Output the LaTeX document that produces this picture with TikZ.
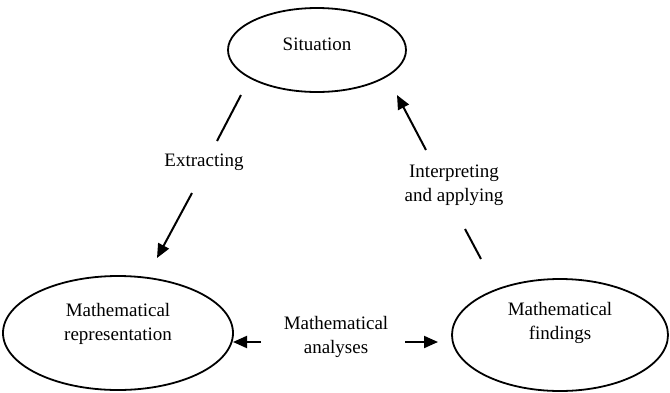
\documentclass[tikz,border=0pt]{standalone}
\usepackage{fontspec}
\setmainfont{Liberation Serif}
\usetikzlibrary{arrows.meta,shapes.geometric}
\begin{document}
\begin{tikzpicture}[x=1pt,y=-1pt,
  oval/.style={draw,line width=1.8pt,ellipse,minimum width=#1},
  lbl/.style={font=\fontsize{19}{24}\selectfont,align=center,inner sep=0pt},
  ln/.style={line width=2pt},
  arr/.style={line width=2pt,-{Triangle[length=14pt,width=12pt]}}]
\useasboundingbox (0,0) rectangle (670,392);
\draw[oval] (317,50) ellipse [x radius=89,y radius=42];
\draw[oval] (118,333) ellipse [x radius=115,y radius=57];
\draw[oval] (560,335) ellipse [x radius=108,y radius=56];
\node[lbl] (sit) at (317,44) {Situation};
\node[lbl] (rep) at (118,324) {Mathematical\\representation};
\node[lbl] (fin) at (560,323) {Mathematical\\findings};
\node[lbl] (ext) at (204,162) {Extracting};
\node[lbl] (int) at (454,185) {Interpreting\\and applying};
\node[lbl] (ana) at (336,337) {Mathematical\\analyses};
\coordinate (e1) at (241,95);
\coordinate (e2) at (217,141);
\coordinate (e3) at (192,193);
\coordinate (e4) at (157,258);
\coordinate (i1) at (481,259);
\coordinate (i2) at (465,229);
\coordinate (i3) at (426,150);
\coordinate (i4) at (397,95);
\coordinate (a1) at (261,342);
\coordinate (a2) at (233,342);
\coordinate (a3) at (405,342);
\coordinate (a4) at (438,342);
\draw[ln] (e1) -- (e2);
\draw[arr] (e3) -- (e4);
\draw[ln] (i1) -- (i2);
\draw[arr] (i3) -- (i4);
\draw[arr] (a1) -- (a2);
\draw[arr] (a3) -- (a4);
\end{tikzpicture}
\end{document}
